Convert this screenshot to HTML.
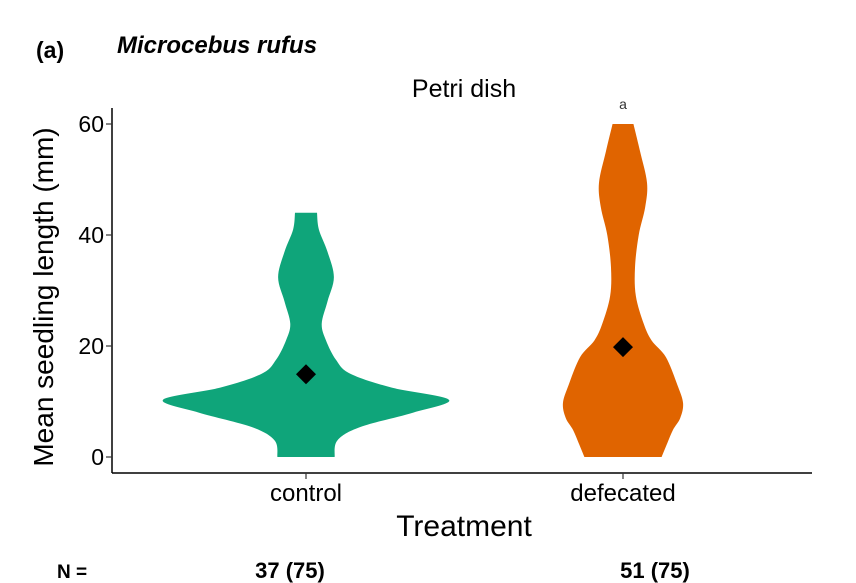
<!DOCTYPE html>
<html><head><meta charset="utf-8"><style>
body{margin:0;background:#fff;}
svg{display:block;font-family:"Liberation Sans",Arial,sans-serif;}
</style></head><body>
<svg id="chart" width="856" height="583" viewBox="0 0 856 583">
<text x="36" y="58" font-size="23" font-weight="bold">(a)</text>
<text x="117" y="53" font-size="24" font-weight="bold" font-style="italic">Microcebus rufus</text>
<text x="464" y="97" font-size="25" text-anchor="middle">Petri dish</text>
<text x="623" y="109" font-size="14" text-anchor="middle" fill="#333">a</text>
<g id="plot"></g>
<line x1="112" y1="108" x2="112" y2="473" stroke="#000" stroke-width="1.5"/>
<line x1="112" y1="473" x2="812" y2="473" stroke="#000" stroke-width="1.5"/>
<g id="yticks"></g><g id="xticks"></g>
<text transform="translate(53,297) rotate(-90)" font-size="28" text-anchor="middle">Mean seedling length (mm)</text>
<text x="464" y="536" font-size="30" text-anchor="middle">Treatment</text>
<text x="57" y="578" font-size="19" font-weight="bold">N =</text>
<text x="290" y="578" font-size="22" font-weight="bold" text-anchor="middle">37 (75)</text>
<text x="655" y="578" font-size="22" font-weight="bold" text-anchor="middle">51 (75)</text>
</svg>
<script>
const categories = ["control","defecated"];
const colors = ["#0fa57a","#e06400"];
const yTicks = [0,20,40,60];
const means = [14.9,19.8];
const controlY = [0,3,5.4,8,10.3,12.5,15,17.5,21,24,28,32.4,37,41,44];
const controlDensity = [0.20,0.22,0.38,0.75,1.0,0.6,0.31,0.21,0.14,0.11,0.15,0.195,0.15,0.09,0.077];
const defecY = [0,2.5,4.9,7,9.7,13,18,21,24,29,34.2,40,45,49.4,55,60];
const defecDensity = [0.27,0.31,0.35,0.40,0.42,0.38,0.30,0.2,0.145,0.09,0.084,0.11,0.155,0.168,0.12,0.073];

const svg = document.getElementById('chart');
const NS = 'http://www.w3.org/2000/svg';
const yScale = v => 457 - v * 5.55;
const xScale = i => [306,623][i];
const wScale = d => d * 143;

function smooth(pts){
  let d = 'M' + pts[0][0] + ',' + pts[0][1];
  for (let i=0;i<pts.length-1;i++){
    const p0=pts[Math.max(i-1,0)],p1=pts[i],p2=pts[i+1],p3=pts[Math.min(i+2,pts.length-1)];
    const c1=[p1[0]+(p2[0]-p0[0])/6,p1[1]+(p2[1]-p0[1])/6];
    const c2=[p2[0]-(p3[0]-p1[0])/6,p2[1]-(p3[1]-p1[1])/6];
    d+=' C'+c1[0]+','+c1[1]+' '+c2[0]+','+c2[1]+' '+p2[0]+','+p2[1];
  }
  return d;
}
const plot = document.getElementById('plot');
[[controlY,controlDensity],[defecY,defecDensity]].forEach(([ys,ds],i)=>{
  const cx = xScale(i);
  const right = ys.map((v,k)=>[cx+wScale(ds[k]), yScale(v)]);
  const left = ys.map((v,k)=>[cx-wScale(ds[k]), yScale(v)]).reverse();
  const dR = smooth(right);
  const dL = smooth(left).replace(/^M/,' L');
  const p = document.createElementNS(NS,'path');
  p.setAttribute('d', dR + dL + ' Z');
  p.setAttribute('fill', colors[i]);
  
  
  plot.appendChild(p);
  const m = document.createElementNS(NS,'path');
  const my = yScale(means[i]);
  m.setAttribute('d', `M${cx},${my-10} L${cx+10},${my} L${cx},${my+10} L${cx-10},${my} Z`);
  m.setAttribute('fill', '#000');
  
  
  plot.appendChild(m);
});
const yt = document.getElementById('yticks');
yTicks.forEach(v=>{
  const y = yScale(v);
  const l = document.createElementNS(NS,'line');
  l.setAttribute('x1',106);l.setAttribute('x2',112);l.setAttribute('y1',y);l.setAttribute('y2',y);
  l.setAttribute('stroke','#333');l.setAttribute('stroke-width','1.2');
  
  
  yt.appendChild(l);
  const t = document.createElementNS(NS,'text');
  t.setAttribute('x',104);t.setAttribute('y',y+8);t.setAttribute('text-anchor','end');t.setAttribute('font-size','23');
  t.textContent = v;
  
  
  yt.appendChild(t);
});
const xt = document.getElementById('xticks');
categories.forEach((c,i)=>{
  const x = xScale(i);
  const l = document.createElementNS(NS,'line');
  l.setAttribute('x1',x);l.setAttribute('x2',x);l.setAttribute('y1',473);l.setAttribute('y2',479);
  l.setAttribute('stroke','#333');l.setAttribute('stroke-width','1.2');
  
  
  xt.appendChild(l);
  const t = document.createElementNS(NS,'text');
  t.setAttribute('x',x);t.setAttribute('y',501);t.setAttribute('text-anchor','middle');t.setAttribute('font-size','24');
  t.textContent = c;
  
  
  xt.appendChild(t);
});
</script>
</body></html>
